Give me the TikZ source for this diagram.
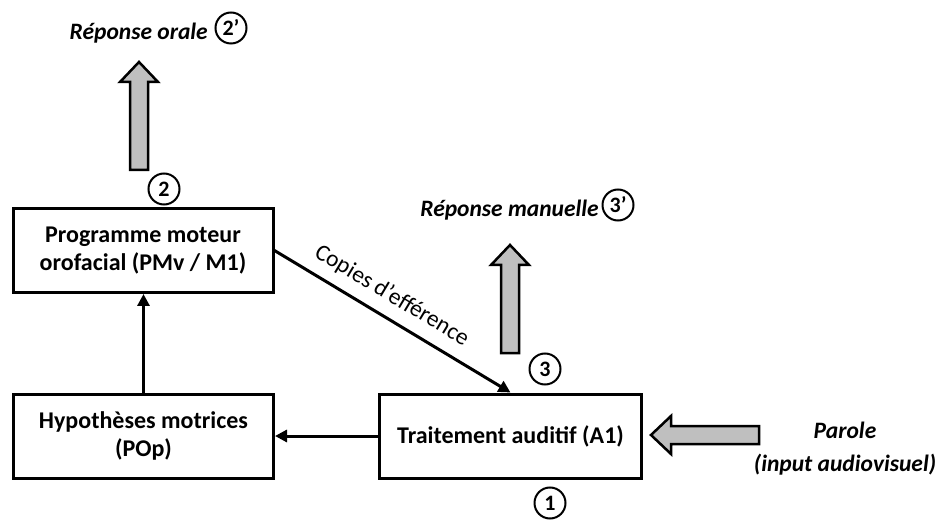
\documentclass[tikz,border=0pt]{standalone}
\usepackage{fontspec}
\setmainfont{Carlito}
\usetikzlibrary{arrows.meta}
\definecolor{arrowgray}{RGB}{191,191,191}
\tikzset{
  box/.style={draw, line width=3pt, minimum width=260pt, minimum height=84pt, align=center,
    font=\fontsize{24}{28.5}\selectfont\bfseries},
  conn/.style={line width=3pt, -{Triangle[length=12pt,width=12pt]}},
  num/.style={draw, circle, line width=2pt, inner sep=0pt, minimum size=31pt,
    font=\fontsize{22}{22}\selectfont\bfseries},
  lbl/.style={inner sep=0pt, align=center, font=\fontsize{23.5}{33}\selectfont\bfseries\itshape},
  bigarrow/.pic={
    \draw[fill=arrowgray, line width=2.5pt] (0,-9) -- (88,-9) -- (88,-19) -- (108,0)
      -- (88,19) -- (88,9) -- (0,9) -- cycle;}
}
\begin{document}
\begin{tikzpicture}[x=1pt,y=-1pt]
  \useasboundingbox (0,0) rectangle (937,521);
  % boxes
  \node[box] (pm) at (143,250.5) {Programme moteur\\orofacial (PMv / M1)};
  \node[box] (hyp) at (143.5,436) {Hypothèses motrices\\(POp)};
  \node[box, minimum width=262pt] (ta) at (510.5,436) {Traitement auditif (A1)};
  % links
  \draw[conn] (hyp.north) -- (hyp.north |- pm.south);
  \draw[conn] (ta.west) -- (hyp.east);
  \draw[conn] (pm.east) -- node[sloped, above=8pt, pos=0.45, inner sep=2pt,
    font=\fontsize{23.5}{23.5}\selectfont] (copies) {Copies d’efférence} (ta.north);
  % responses
  \pic[rotate=90] at (139,170) {bigarrow};
  \pic[rotate=90] at (510,353) {bigarrow};
  \pic[rotate=180] at (759,435) {bigarrow};
  \node[lbl, anchor=east] (oral) at (208,33) {Réponse orale};
  \node[lbl, anchor=east] (manual) at (599,210) {Réponse manuelle};
  \node[lbl] (parole) at (845,448.5) {Parole\\(input audiovisuel)};
  % steps
  \node[num] (n1) at (550,503) {1};
  \node[num] (n2) at (164,189) {2};
  \node[num] (n3) at (545,369) {3};
  \node[num] (n2p) at (231,28) {2’};
  \node[num] (n3p) at (618,205) {3’};
\end{tikzpicture}
\end{document}
